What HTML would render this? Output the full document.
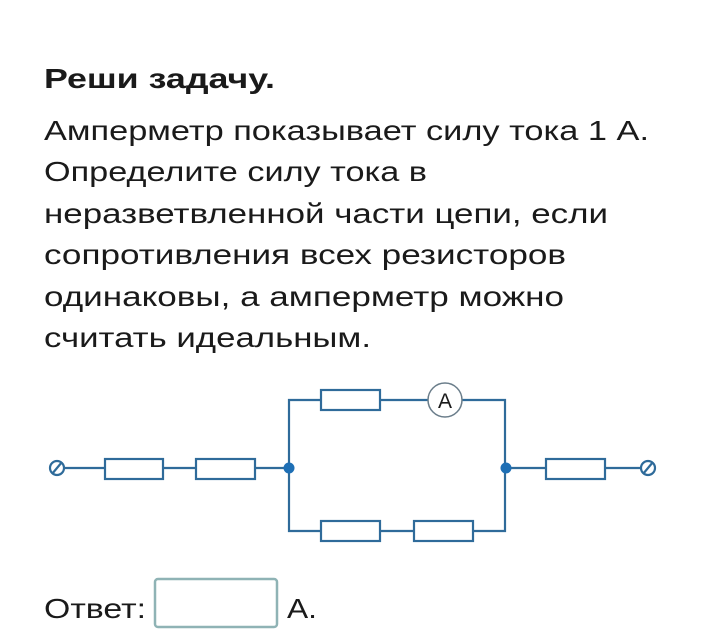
<!DOCTYPE html>
<html><head><meta charset="utf-8"><style>
html,body{margin:0;padding:0;background:#fff;}
svg{display:block;}
</style></head><body>
<svg width="701" height="644" viewBox="0 0 701 644" xmlns="http://www.w3.org/2000/svg">
<rect width="701" height="644" fill="#fff"/>
<g font-family="Liberation Sans, DejaVu Sans, sans-serif" fill="#1a1a1a" font-size="28">
<text x="44" y="88" font-weight="bold" textLength="231" lengthAdjust="spacingAndGlyphs">Реши задачу.</text>
<text x="44" y="140" textLength="605" lengthAdjust="spacingAndGlyphs">Амперметр показывает силу тока 1 А.</text>
<text x="44" y="181" textLength="383" lengthAdjust="spacingAndGlyphs">Определите силу тока в</text>
<text x="44" y="223" textLength="564" lengthAdjust="spacingAndGlyphs">неразветвленной части цепи, если</text>
<text x="44" y="264" textLength="522" lengthAdjust="spacingAndGlyphs">сопротивления всех резисторов</text>
<text x="44" y="306" textLength="520" lengthAdjust="spacingAndGlyphs">одинаковы, а амперметр можно</text>
<text x="44" y="347" textLength="327" lengthAdjust="spacingAndGlyphs">считать идеальным.</text>
<text x="44" y="618" textLength="102" lengthAdjust="spacingAndGlyphs">Ответ:</text>
<text x="287" y="618" textLength="30" lengthAdjust="spacingAndGlyphs">А.</text>
</g>
<rect x="155" y="579" width="122" height="48" rx="3" fill="#fff" stroke="#8fb3b5" stroke-width="2.5"/>
<g stroke="#2f6b9a" stroke-width="2.2" fill="none">
<line x1="64" y1="468" x2="289" y2="468"/>
<line x1="506" y1="468" x2="641" y2="468"/>
<polyline points="289,468 289,400 505,400 505,468"/>
<polyline points="289,468 289,531 505,531 505,468"/>
<circle cx="57" cy="468" r="7"/>
<line x1="52" y1="474" x2="62" y2="462"/>
<circle cx="648" cy="468" r="7"/>
<line x1="643" y1="474" x2="653" y2="462"/>
<g fill="#fff">
<rect x="105" y="459" width="58" height="20"/>
<rect x="196" y="459" width="59" height="20"/>
<rect x="546" y="459" width="59" height="20"/>
<rect x="321" y="390" width="59" height="20"/>
<rect x="321" y="521" width="59" height="20"/>
<rect x="414" y="521" width="59" height="20"/>
<circle cx="445" cy="400" r="17" stroke="#6a7d8a" stroke-width="1.5"/>
</g>
</g>
<circle cx="289" cy="468" r="5.5" fill="#1e6fb5"/>
<circle cx="506" cy="468" r="5.5" fill="#1e6fb5"/>
<text x="445" y="408" text-anchor="middle" font-family="Liberation Sans, sans-serif" font-size="21" fill="#1a1a1a">A</text>
</svg>
</body></html>
